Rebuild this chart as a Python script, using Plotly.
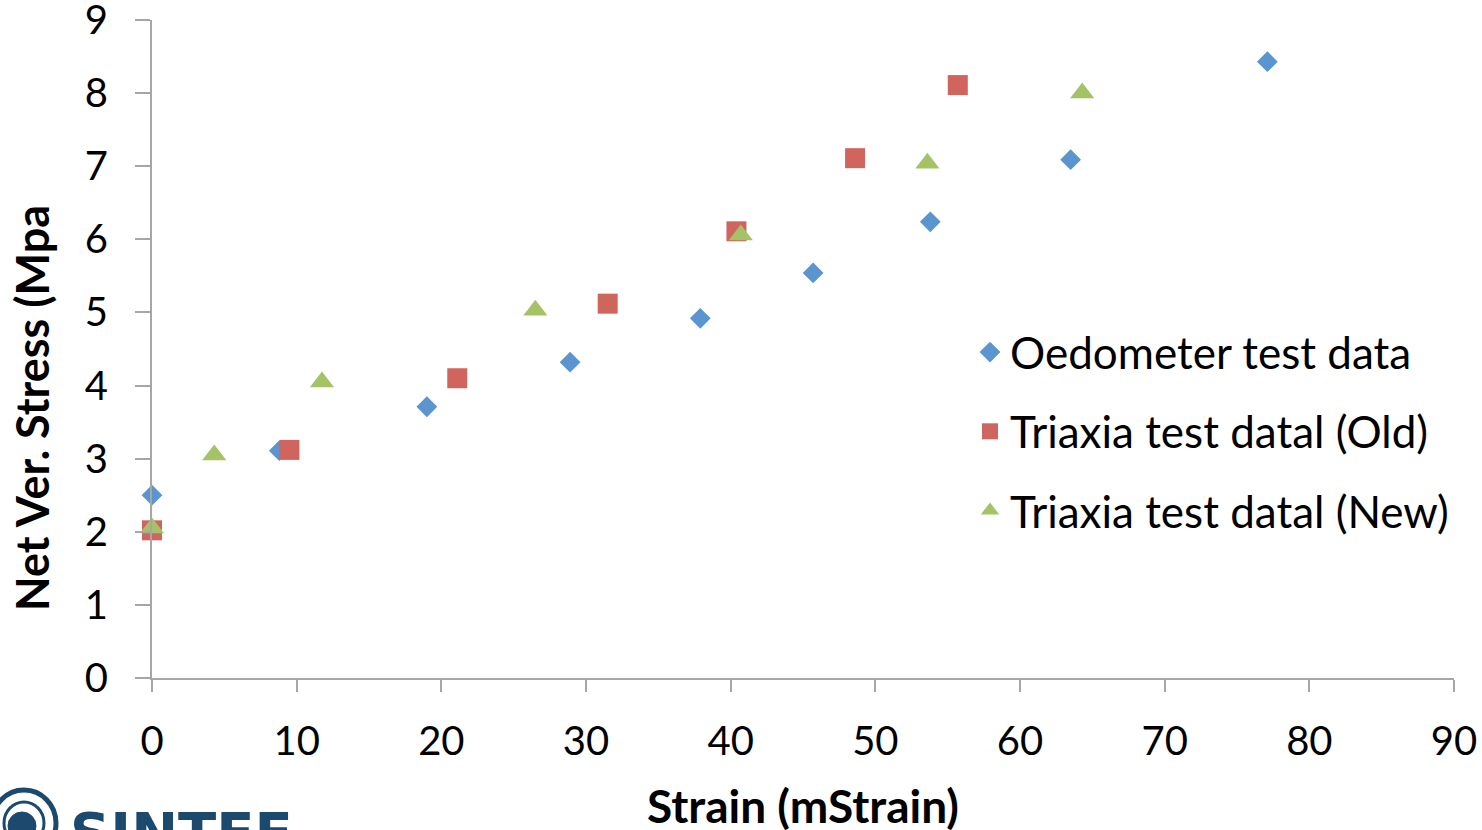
import plotly.graph_objects as go

# Data
oed_x = [0, 8.8, 19.0, 28.9, 37.9, 45.7, 53.8, 63.5, 77.1]
oed_y = [2.50, 3.11, 3.71, 4.32, 4.92, 5.54, 6.24, 7.09, 8.43]

old_x = [0, 9.5, 21.1, 31.5, 40.4, 48.6, 55.7]
old_y = [2.02, 3.12, 4.10, 5.12, 6.11, 7.11, 8.11]

new_x = [0, 4.3, 11.75, 26.5, 40.7, 53.6, 64.3]
new_y = [2.05, 3.05, 4.05, 5.03, 6.06, 7.04, 8.00]

names = ["Oedometer test data", "Triaxia test datal (Old)", "Triaxia test datal (New)"]
x_ticks = [0, 10, 20, 30, 40, 50, 60, 70, 80, 90]
y_ticks = [0, 1, 2, 3, 4, 5, 6, 7, 8, 9]

FONT = "Lato"
W, H = 1482, 830
L, R, T, B = 152, 28, 20, 152

fig = go.Figure()
fig.add_trace(go.Scatter(x=oed_x, y=oed_y, mode="markers", name=names[0], legendgroup="a",
                         marker=dict(symbol="diamond", size=16, color="#5B95CF"), cliponaxis=False))
fig.add_trace(go.Scatter(x=old_x, y=old_y, mode="markers", name=names[1], legendgroup="b",
                         marker=dict(symbol="square", size=20, color="#D0655E"), cliponaxis=False))
fig.add_trace(go.Scatter(x=new_x, y=new_y, mode="markers", name=names[2], legendgroup="c",
                         marker=dict(symbol="triangle-up", size=21, color="#A5C266"), cliponaxis=False))

axis_common = dict(showgrid=False, zeroline=False, showline=True, linecolor="#A6A6A6", linewidth=2,
                   ticks="outside", tickcolor="#A6A6A6", tickwidth=2,
                   tickfont=dict(family=FONT, size=40, color="#000000"))

fig.update_layout(
    width=W, height=H,
    margin=dict(l=L, r=R, t=T, b=B, autoexpand=False),
    paper_bgcolor="white", plot_bgcolor="white",
    showlegend=True,
    legend=dict(x=(970 - L) / (W - L - R), y=(678 - 317) / 658, xanchor="left", yanchor="top",
                font=dict(family=FONT, size=44, color="#000000"), tracegroupgap=19,
                bgcolor="rgba(0,0,0,0)"),
    xaxis=dict(range=[0, 90], tickvals=x_ticks, ticklen=12, ticklabelstandoff=15, **axis_common),
    yaxis=dict(range=[0, 9.0001], tickvals=y_ticks, ticklen=15, ticklabelstandoff=19,
               ticklabeloverflow="allow", **axis_common),
)

# axis titles
fig.add_annotation(text="<b>Strain (mStrain)</b>", xref="paper", yref="paper",
                   x=0.5, y=(678 - 805) / 658, xanchor="center", yanchor="middle",
                   showarrow=False, font=dict(family=FONT, size=46, color="#000000"))
fig.add_annotation(text="<b>Net Ver. Stress (Mpa</b>", xref="paper", yref="paper",
                   x=(32 - L) / (W - L - R), y=(678 - 408) / 658, xanchor="center", yanchor="middle",
                   textangle=-90, showarrow=False, font=dict(family=FONT, size=45, color="#000000"))

# SINTEF logo (partially cut off at the bottom)
def px(xp):
    return (xp - L) / (W - L - R)

def py(yp):
    return (678 - yp) / 658

fig.add_annotation(text="<b>SINTEF</b>", xref="paper", yref="paper",
                   x=px(68), y=py(798), xanchor="left", yanchor="top", showarrow=False,
                   font=dict(family="DejaVu Sans", size=56, color="#1B4A6E"))
fig.add_shape(type="circle", xref="paper", yref="paper", x0=px(-8), x1=px(56), y0=py(856), y1=py(790),
              line=dict(color="#1B4A6E", width=5))
fig.add_shape(type="circle", xref="paper", yref="paper", x0=px(4), x1=px(44), y0=py(844), y1=py(802),
              line=dict(color="#1B4A6E", width=3))
fig.add_shape(type="circle", xref="paper", yref="paper", x0=px(8), x1=px(36), y0=py(840), y1=py(812),
              fillcolor="#1B4A6E", line=dict(color="#1B4A6E", width=1))

fig.write_html("out.html")
